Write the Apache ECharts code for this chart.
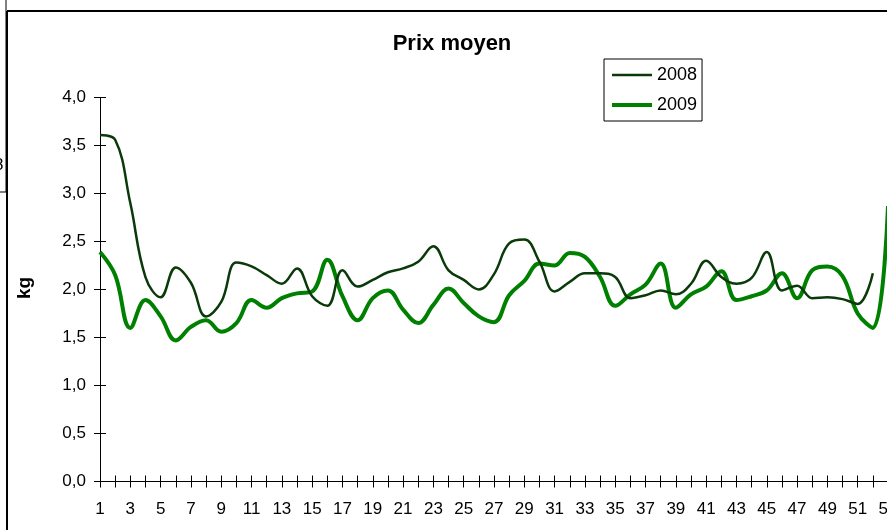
<!DOCTYPE html>
<html><head><meta charset="utf-8">
<script src="https://cdn.jsdelivr.net/npm/echarts@6/dist/echarts.min.js"></script>
<style>html,body{margin:0;padding:0;background:#fff}#c{width:887px;height:530px}</style>
</head><body><div id="c"></div>
<script>
const weeks = ['1','2','3','4','5','6','7','8','9','10','11','12','13','14','15','16','17','18','19','20','21','22','23','24','25','26','27','28','29','30','31','32','33','34','35','36','37','38','39','40','41','42','43','44','45','46','47','48','49','50','51','52','53'];
const prix2008 = [3.61,3.56,2.90,2.13,1.92,2.23,2.07,1.72,1.87,2.28,2.24,2.15,2.06,2.22,1.93,1.83,2.20,2.03,2.10,2.18,2.22,2.29,2.45,2.20,2.10,2.00,2.16,2.48,2.52,2.29,1.98,2.08,2.17,2.17,2.13,1.91,1.94,1.99,1.95,2.06,2.30,2.13,2.06,2.12,2.39,1.99,2.04,1.91,1.92,1.90,1.85,2.17];
const prix2009 = [2.39,2.15,1.60,1.89,1.72,1.47,1.61,1.68,1.56,1.65,1.89,1.81,1.91,1.96,1.98,2.31,1.93,1.68,1.91,1.99,1.79,1.65,1.84,2.01,1.86,1.72,1.66,1.94,2.09,2.27,2.25,2.38,2.34,2.13,1.83,1.95,2.05,2.27,1.81,1.95,2.03,2.19,1.89,1.93,1.99,2.17,1.91,2.20,2.24,2.14,1.75,1.60,2.87];
const seriesNames = ['2008','2009'];
const yMin = 0, yMax = 4, yStep = 0.5;

const FONT = '"Liberation Sans", Arial, sans-serif';
const chart = echarts.init(document.getElementById('c'));
const fmt = v => v.toFixed(1).replace('.', ',');
const axisLine = {show:true, lineStyle:{color:'#000', width:1}};

chart.setOption({
  animation:false,
  backgroundColor:'#fff',
  grid: {left:100, top:97.5, width:788, height:384, outerBoundsMode:'none', containLabel:false},
  legend: {
    data: [
      {name:seriesNames[0], icon:'path://M0,0L40,0L40,2.5L0,2.5Z'},
      {name:seriesNames[1], icon:'path://M0,0L40,0L40,4L0,4Z'}
    ],
    orient:'vertical', left:604, top:59,
    padding:[7,5,7,8], itemWidth:40, itemHeight:14, itemGap:12,
    borderColor:'#000', borderWidth:1, symbolKeepAspect:true,
    textStyle:{fontFamily:FONT, fontSize:18, color:'#000', lineHeight:18}
  },
  xAxis: [
    {type:'category', data:weeks, boundaryGap:false, position:'bottom',
     axisLine:axisLine, axisTick:{show:true, interval:0, length:6, lineStyle:{color:'#000'}},
     axisLabel:{interval:1, margin:19, fontFamily:FONT, fontSize:17, color:'#000', hideOverlap:false},
     splitLine:{show:false}},
    {type:'category', data:weeks, boundaryGap:false, position:'bottom',
     axisLine:{show:false}, axisTick:{show:true, inside:true, interval:0, length:6, lineStyle:{color:'#000'}},
     axisLabel:{show:false}, splitLine:{show:false}}
  ],
  yAxis: [
    {type:'value', min:yMin, max:yMax, interval:yStep, position:'left',
     axisLine:axisLine, axisTick:{show:true, length:6, lineStyle:{color:'#000'}},
     axisLabel:{formatter:fmt, margin:14, fontFamily:FONT, fontSize:17, color:'#000'},
     splitLine:{show:false}},
    {type:'value', min:yMin, max:yMax, interval:yStep, position:'left',
     axisLine:{show:false}, axisTick:{show:true, inside:true, length:6, lineStyle:{color:'#000'}},
     axisLabel:{show:false}, splitLine:{show:false}}
  ],
  series: [
    {name:seriesNames[0], type:'line', data:prix2008, smooth:0.4, symbol:'none',
     lineStyle:{color:'#0a3a0a', width:2.5}, itemStyle:{color:'#0a3a0a'}, z:3},
    {name:seriesNames[1], type:'line', data:prix2009, smooth:0.4, symbol:'none',
     lineStyle:{color:'#008000', width:4}, itemStyle:{color:'#008000'}, z:2}
  ],
  graphic: [
    {type:'text', x:452, y:44, style:{text:'Prix moyen', font:'bold 22px ' + FONT, fill:'#000', align:'center', verticalAlign:'middle'}},
    {type:'text', x:25, y:288, rotation:Math.PI/2, style:{text:'kg', font:'bold 19px ' + FONT, fill:'#000', align:'center', verticalAlign:'middle'}},
    {type:'line', shape:{x1:7, y1:11, x2:7, y2:531}, style:{stroke:'#000', lineWidth:2}},
    {type:'line', shape:{x1:7, y1:11, x2:888, y2:11}, style:{stroke:'#000', lineWidth:2}},
    {type:'rect', shape:{x:-2, y:-2, width:8, height:194}, style:{fill:'#fff', stroke:'#000', lineWidth:1}},
    {type:'text', x:-6, y:165, style:{text:'8', font:'17px ' + FONT, fill:'#000', verticalAlign:'middle'}}
  ]
});
</script></body></html>
